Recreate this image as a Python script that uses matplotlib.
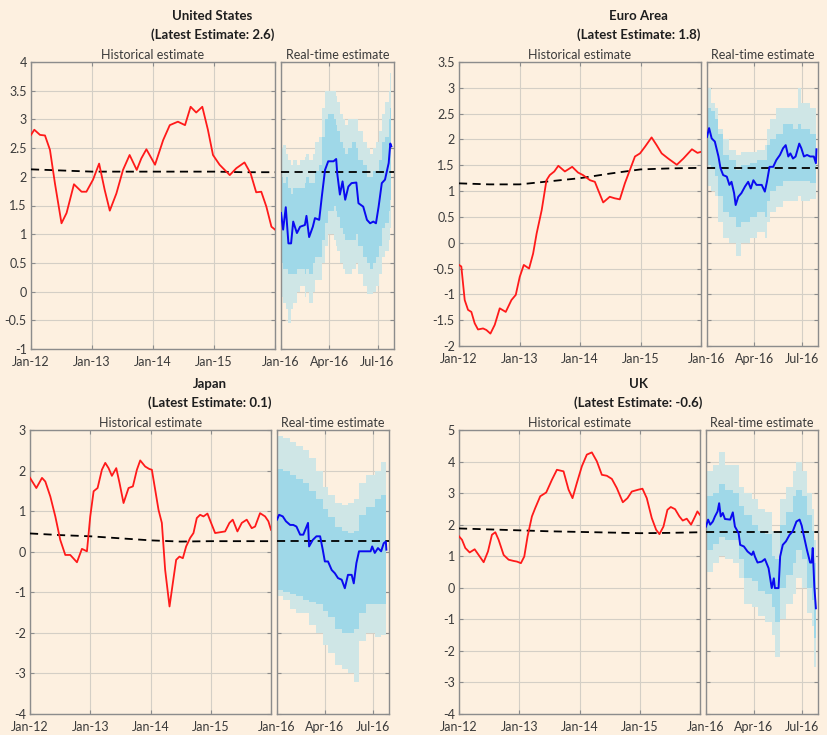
import matplotlib
matplotlib.use('Agg')
import matplotlib.pyplot as plt
from matplotlib.ticker import FormatStrFormatter

plt.rcParams['font.family'] = ['Lato', 'DejaVu Sans']
plt.rcParams['axes.unicode_minus'] = False

BG = '#fdf0e0'
RED = '#ff1a1a'
BLUE = '#0a0af0'
LIGHT = '#cfe6e6'
DARK = '#9fd8e8'
SPINE = '#8c8c8c'
TXT = '#3a3a3a'

# ---------------- data ----------------
hist_ticks = [0, 12, 24, 36, 48]
hist_labels = ['Jan-12', 'Jan-13', 'Jan-14', 'Jan-15', '']
rt_ticks = [0, 91, 182]
rt_labels = ['Jan-16', 'Apr-16', 'Jul-16']
trend_m = [0, 6, 12, 18, 24, 30, 36, 42, 48]

# United States
us_m = [0, 0.65, 1.77, 2.75, 3.73, 4.7, 6.0, 7.0, 8.45, 9.95, 10.9, 12.2, 13.4, 14.5,
        15.5, 16.8, 18.1, 19.4, 20.8, 21.7, 22.7, 24.4, 26.0, 27.3, 28.9, 30.3, 31.4,
        32.5, 33.7, 34.8, 35.8, 37.1, 39.1, 40.4, 42.0, 43.2, 44.3, 45.3, 46.3, 47.3, 48]
us_v = [2.73, 2.82, 2.73, 2.72, 2.47, 1.89, 1.19, 1.37, 1.87, 1.74, 1.74, 1.95, 2.23, 1.77,
        1.41, 1.71, 2.12, 2.38, 2.12, 2.32, 2.48, 2.21, 2.64, 2.90, 2.96, 2.90, 3.22,
        3.12, 3.22, 2.82, 2.38, 2.21, 2.03, 2.15, 2.25, 2.06, 1.73, 1.74, 1.48, 1.13, 1.08]
us_trend = [2.13, 2.11, 2.09, 2.09, 2.09, 2.09, 2.09, 2.08, 2.08]
us_rt_trend = 2.08
us_rt_d = [0, 4, 9, 14, 19, 23, 30, 36, 45, 48, 53, 60, 64, 72, 77, 83, 89, 99, 104, 106,
           111, 116, 121, 127, 133, 142, 146, 155, 162, 168, 174, 179, 184, 190, 196, 203,
           206, 208]
us_rt_v = [1.37, 1.08, 1.47, 0.84, 0.84, 1.22, 1.02, 1.13, 1.16, 1.32, 0.95, 1.13, 1.28,
           1.25, 1.66, 2.12, 2.27, 2.27, 2.31, 2.06, 1.69, 1.92, 1.60, 1.83, 1.89, 1.90,
           1.54, 1.48, 1.25, 1.19, 1.22, 1.19, 1.48, 1.89, 1.95, 2.24, 2.58, 2.53]
us_lo68 = [0.5, 0.4, 0.4, 0.3, 0.3, 0.3, 0.4, 0.4, 0.3, 0.4, 0.3, 0.5, 0.6, 0.6, 0.9, 1.2,
           1.4, 1.5, 1.4, 1.3, 1.1, 1.0, 0.9, 0.9, 0.9, 1.0, 0.8, 0.6, 0.5, 0.4, 0.5, 0.6,
           0.8, 1.1, 1.2, 1.4, 1.6, 1.6]
us_hi68 = [2.0, 1.9, 2.0, 1.8, 1.7, 1.8, 1.8, 1.8, 1.9, 2.0, 1.9, 1.9, 2.1, 2.2, 2.7, 3.0,
           3.1, 3.0, 2.9, 2.8, 2.6, 2.5, 2.4, 2.5, 2.6, 2.5, 2.3, 2.2, 2.0, 2.0, 2.1, 2.1,
           2.3, 2.6, 2.7, 3.0, 3.2, 3.3]
us_lo90 = [-0.1, -0.2, -0.3, -0.55, -0.3, -0.2, 0.0, 0.1, -0.1, 0.0, -0.2, 0.0, 0.2, 0.2,
           0.5, 0.8, 1.0, 0.9, 0.8, 0.7, 0.5, 0.4, 0.3, 0.3, 0.4, 0.5, 0.3, 0.1, -0.05,
           -0.05, 0.0, 0.1, 0.3, 0.6, 0.7, 0.9, 1.1, 1.1]
us_hi90 = [2.5, 2.55, 2.4, 2.3, 2.2, 2.3, 2.2, 2.3, 2.35, 2.4, 2.3, 2.4, 2.6, 2.7, 3.2, 3.5,
           3.5, 3.5, 3.4, 3.3, 3.1, 3.0, 2.9, 3.0, 3.0, 3.0, 2.8, 2.6, 2.5, 2.4, 2.5, 2.6,
           2.8, 3.1, 3.3, 3.5, 3.8, 3.9]

# Euro Area
ea_m = [0, 0.46, 1.13, 1.79, 2.45, 3.11, 3.77, 4.77, 5.43, 6.23, 7.09, 8.08, 9.27, 10.4,
        11.26, 12.05, 12.85, 13.9, 14.7, 15.4, 16.4, 17.35, 18.0, 18.9, 19.7, 21.0, 22.45,
        23.6, 24.6, 26.0, 26.95, 27.6, 28.6, 29.9, 30.9, 31.9, 32.9, 33.9, 34.9, 35.9,
        36.9, 38.2, 39.2, 40.2, 41.5, 43.2, 44.5, 46.2, 47.3, 48]
ea_v = [-0.43, -0.46, -1.11, -1.30, -1.34, -1.56, -1.68, -1.66, -1.69, -1.76, -1.59,
        -1.27, -1.34, -1.11, -1.01, -0.66, -0.43, -0.50, -0.21, 0.18, 0.63, 1.21, 1.31,
        1.38, 1.49, 1.38, 1.47, 1.36, 1.31, 1.21, 1.18, 1.02, 0.78, 0.89, 0.86, 0.84,
        1.15, 1.41, 1.67, 1.73, 1.86, 2.04, 1.89, 1.73, 1.63, 1.51, 1.63, 1.81, 1.74, 1.76]
ea_trend = [1.15, 1.13, 1.13, 1.19, 1.25, 1.34, 1.42, 1.44, 1.45]
ea_rt_trend = 1.45
ea_rt_d = [0, 4, 9, 15, 22, 26, 31, 38, 43, 47, 52, 55, 60, 66, 73, 79, 84, 89, 95, 105,
           111, 115, 120, 127, 133, 140, 146, 151, 156, 160, 165, 170, 177, 181, 186, 192,
           198, 205, 209, 210]
ea_rt_v = [2.05, 2.22, 2.02, 1.96, 1.67, 1.44, 1.31, 1.28, 1.12, 1.18, 0.96, 0.73, 0.89,
           0.96, 1.09, 1.18, 1.05, 1.21, 1.12, 1.12, 0.99, 1.18, 1.47, 1.47, 1.60, 1.70,
           1.83, 1.89, 1.67, 1.73, 1.63, 1.67, 1.92, 1.83, 1.67, 1.70, 1.67, 1.67, 1.54,
           1.81]
ea_band_d = [0, 8, 15, 22, 31, 43, 55, 66, 83, 95, 111, 115, 120, 133, 146, 165, 175, 181,
             198, 210]
ea_lo90 = [1.1, 1.0, 0.9, 0.4, 0.1, 0.0, -0.25, 0.0, 0.1, 0.2, 0.1, 0.4, 0.6, 0.7, 0.8,
           0.8, 0.9, 0.8, 0.85, 0.85]
ea_lo68 = [1.5, 1.45, 1.3, 0.9, 0.6, 0.5, 0.3, 0.4, 0.5, 0.6, 0.5, 0.8, 1.0, 1.1, 1.2,
           1.2, 1.2, 1.2, 1.15, 1.15]
ea_hi68 = [2.6, 2.55, 2.4, 2.1, 1.7, 1.6, 1.4, 1.5, 1.55, 1.6, 1.6, 1.9, 2.0, 2.1, 2.3,
           2.2, 2.3, 2.2, 2.1, 2.05]
ea_hi90 = [3.0, 2.7, 2.6, 2.2, 2.0, 1.8, 1.7, 1.75, 1.76, 1.8, 1.9, 2.2, 2.4, 2.6, 2.6,
           2.6, 3.0, 2.7, 2.6, 2.55]

# Japan
jp_m = [0, 1.26, 2.39, 3.05, 4.05, 5.04, 6.03, 7.03, 8.02, 9.35, 10.34, 11.34, 12.0,
        12.67, 13.46, 14.32, 14.99, 15.65, 16.31, 17.18, 17.84, 18.63, 19.63, 20.49,
        21.29, 21.95, 22.94, 23.74, 24.27, 24.93, 25.6, 26.26, 26.92, 27.79, 28.45, 29.11,
        29.77, 30.44, 31.1, 31.9, 32.56, 33.22, 33.89, 34.55, 35.34, 36.07, 36.87, 37.86,
        38.86, 39.72, 40.38, 41.31, 42.18, 43.17, 44.16, 44.83, 45.82, 46.82, 47.48, 48]
jp_v = [1.82, 1.57, 1.82, 1.73, 1.36, 0.87, 0.29, -0.08, -0.08, -0.26, 0.07, 0.01, 0.87,
        1.49, 1.57, 2.02, 2.19, 2.06, 1.87, 2.06, 1.69, 1.20, 1.57, 1.61, 2.02, 2.25, 2.10,
        2.04, 2.02, 1.53, 1.03, 0.71, -0.45, -1.35, -0.77, -0.20, -0.12, -0.16, 0.13, 0.34,
        0.46, 0.83, 0.91, 0.87, 0.94, 0.71, 0.46, 0.48, 0.50, 0.71, 0.79, 0.50, 0.71, 0.79,
        0.58, 0.62, 0.95, 0.87, 0.75, 0.54]
jp_trend = [0.45, 0.41, 0.38, 0.33, 0.28, 0.25, 0.26, 0.26, 0.26]
jp_rt_trend = 0.26
jp_rt_d = [0, 4, 11, 17, 25, 31, 37, 44, 50, 55, 59, 61, 68, 75, 82, 87, 91, 97, 104, 110,
           116, 123, 129, 135, 142, 146, 151, 156, 164, 170, 178, 181, 186, 192, 198, 203,
           207, 208]
jp_rt_v = [0.79, 0.91, 0.87, 0.75, 0.66, 0.66, 0.62, 0.42, 0.42, 0.58, 0.71, 0.13, 0.29,
           0.38, 0.38, 0.05, -0.24, -0.24, -0.45, -0.53, -0.65, -0.69, -0.90, -0.57, -0.57,
           -0.78, -0.28, 0.01, 0.01, 0.01, 0.01, 0.13, -0.03, 0.09, 0.01, 0.21, 0.25, 0.05]
jp_band_d = [0, 11, 25, 37, 50, 61, 75, 87, 97, 110, 123, 135, 146, 156, 170, 186, 198,
             208]
jp_lo90 = [-1.1, -1.2, -1.4, -1.5, -1.5, -1.8, -2.0, -2.3, -2.5, -2.8, -2.9, -3.0, -3.2,
           -2.2, -2.0, -2.1, -2.05, -1.9]
jp_lo68 = [-0.95, -1.0, -1.05, -1.1, -1.2, -1.25, -1.3, -1.45, -1.6, -1.9, -2.0, -2.0,
           -1.9, -1.5, -1.3, -1.3, -1.3, -1.0]
jp_hi68 = [2.05, 2.0, 1.9, 1.8, 1.7, 1.5, 1.3, 1.05, 0.85, 0.6, 0.5, 0.45, 0.5, 0.9, 1.1,
           1.3, 1.4, 1.4]
jp_hi90 = [2.85, 2.8, 2.7, 2.6, 2.5, 2.3, 2.0, 1.6, 1.4, 1.2, 1.15, 1.2, 1.3, 1.7, 1.9,
           2.0, 2.2, 2.2]

# UK
uk_m = [0, 0.6, 1.26, 2.12, 3.12, 3.91, 4.91, 5.77, 6.56, 7.23, 7.89, 8.89, 9.88, 10.88,
        11.54, 12.33, 13.0, 13.66, 14.52, 15.19, 16.18, 17.37, 18.5, 19.5, 20.82, 21.82,
        22.61, 23.47, 24.47, 25.46, 26.46, 27.45, 28.45, 29.44, 30.44, 31.43, 32.63, 33.55,
        34.42, 35.74, 36.54, 37.4, 38.39, 39.26, 39.92, 40.72, 41.51, 42.18, 43.04, 43.9,
        44.56, 45.36, 46.22, 47.02, 47.48, 48]
uk_v = [1.63, 1.52, 1.26, 1.12, 1.22, 1.04, 0.81, 1.15, 1.68, 1.76, 1.52, 1.04, 0.89, 0.85,
        0.83, 0.78, 0.99, 1.63, 2.26, 2.53, 2.90, 3.02, 3.42, 3.74, 3.69, 3.11, 2.84, 3.32,
        3.85, 4.22, 4.29, 4.01, 3.58, 3.55, 3.45, 3.16, 2.71, 2.84, 3.05, 3.11, 3.14, 2.84,
        2.21, 1.84, 1.70, 1.94, 2.47, 2.56, 2.49, 2.26, 2.13, 2.19, 2.00, 2.26, 2.42, 2.31]
uk_trend = [1.88, 1.85, 1.82, 1.79, 1.77, 1.75, 1.73, 1.74, 1.76]
uk_rt_trend = 1.77
uk_rt_d = [0, 4, 8, 13, 17, 22, 25, 28, 32, 36, 46, 51, 55, 62, 65, 72, 79, 87, 90, 93,
           98, 106, 112, 119, 125, 129, 131, 138, 141, 146, 152, 159, 165, 172, 178, 182,
           185, 192, 198, 201, 203, 206, 209]
uk_rt_v = [1.94, 2.16, 2.00, 2.10, 2.26, 2.42, 2.68, 2.26, 2.37, 2.18, 2.16, 2.39, 1.94,
           1.73, 1.36, 1.31, 1.15, 1.04, 1.15, 0.99, 0.80, 0.83, 0.91, 0.62, -0.01, 0.30,
           -0.01, -0.01, 0.99, 1.36, 1.47, 1.68, 1.79, 2.10, 2.16, 1.97, 1.73, 1.20, 0.80,
           0.80, 1.26, 0.04, -0.65]
uk_band_d = [0, 13, 25, 36, 51, 62, 72, 87, 98, 112, 125, 131, 141, 152, 165, 172, 182,
             192, 201, 206, 209]
uk_lo90 = [0.5, 0.8, 1.0, 0.9, 0.8, 0.3, -0.5, -0.6, -0.9, -1.1, -1.5, -2.2, -1.0, -0.5,
           -0.2, 0.3, 0.0, -0.8, -1.2, -2.5, -3.0]
uk_lo68 = [1.2, 1.4, 1.6, 1.5, 1.5, 0.9, 0.3, 0.2, -0.1, -0.2, -0.6, -1.1, 0.0, 0.4, 0.8,
           1.2, 0.9, 0.0, -0.4, -1.6, -2.3]
uk_hi68 = [2.9, 3.0, 3.3, 3.1, 3.0, 2.6, 2.3, 2.0, 1.8, 1.7, 1.0, 0.9, 2.0, 2.4, 2.9, 3.1,
           2.9, 2.3, 1.8, 0.8, 0.0]
uk_hi90 = [3.7, 3.9, 4.3, 3.9, 3.9, 3.2, 3.0, 2.8, 2.5, 2.4, 1.8, 1.8, 2.8, 3.2, 3.7, 4.0,
           3.7, 3.0, 2.5, 1.5, 1.0]

titles = ['United States', 'Euro Area', 'Japan', 'UK']
latest = ['2.6', '1.8', '0.1', '-0.6']

panels = [
    dict(hm=us_m, hv=us_v, tr=us_trend, rtt=us_rt_trend, rd=us_rt_d, rv=us_rt_v,
         bd=us_rt_d, lo90=us_lo90, lo68=us_lo68, hi68=us_hi68, hi90=us_hi90,
         ylim=(-1, 4), step=0.5, fmt='%g',
         hist=[31, 62, 244, 287], rt=[281, 62, 113, 287], ty=(16, 35)),
    dict(hm=ea_m, hv=ea_v, tr=ea_trend, rtt=ea_rt_trend, rd=ea_rt_d, rv=ea_rt_v,
         bd=ea_band_d, lo90=ea_lo90, lo68=ea_lo68, hi68=ea_hi68, hi90=ea_hi90,
         ylim=(-2, 3.5), step=0.5, fmt='%g',
         hist=[459, 62, 242, 284], rt=[707, 62, 111, 284], ty=(16, 35)),
    dict(hm=jp_m, hv=jp_v, tr=jp_trend, rtt=jp_rt_trend, rd=jp_rt_d, rv=jp_rt_v,
         bd=jp_band_d, lo90=jp_lo90, lo68=jp_lo68, hi68=jp_hi68, hi90=jp_hi90,
         ylim=(-4, 3), step=1, fmt='%g',
         hist=[30, 430, 241, 284], rt=[277, 430, 112, 284], ty=(384, 403)),
    dict(hm=uk_m, hv=uk_v, tr=uk_trend, rtt=uk_rt_trend, rd=uk_rt_d, rv=uk_rt_v,
         bd=uk_band_d, lo90=uk_lo90, lo68=uk_lo68, hi68=uk_hi68, hi90=uk_hi90,
         ylim=(-4, 5), step=1, fmt='%g',
         hist=[459, 430, 241, 284], rt=[706, 430, 112, 284], ty=(384, 403)),
]

W, H = 827, 735
fig = plt.figure(figsize=(W / 100, H / 100), dpi=100)
fig.patch.set_facecolor(BG)


def rect(px):
    x, y, w, h = px
    return [x / W, 1 - (y + h) / H, w / W, h / H]


def style(ax, p):
    ax.set_facecolor(BG)
    for s in ax.spines.values():
        s.set_color(SPINE)
        s.set_linewidth(1.0)
    ax.tick_params(direction='in', length=3, width=0.8, colors=SPINE,
                   labelcolor=TXT, labelsize=9, top=True, right=True, pad=3)
    ax.tick_params(axis='x', pad=5)
    ax.grid(True, color='#d4cfc6', linewidth=0.8)
    ax.set_axisbelow(True)
    lo, hi = p['ylim']
    n = int(round((hi - lo) / p['step']))
    ax.set_yticks([lo + i * p['step'] for i in range(n + 1)])
    ax.set_ylim(lo, hi)


for i, p in enumerate(panels):
    axh = fig.add_axes(rect(p['hist']))
    axr = fig.add_axes(rect(p['rt']))
    style(axh, p)
    style(axr, p)

    axh.plot(trend_m, p['tr'], color='black', lw=1.3, ls=(0, (4.5, 3)), zorder=3)
    axh.plot(p['hm'], p['hv'], color=RED, lw=1.3, zorder=4)
    axh.set_xlim(0, 48)
    axh.set_xticks(hist_ticks)
    axh.set_xticklabels(hist_labels)
    axh.yaxis.set_major_formatter(FormatStrFormatter(p['fmt']))
    axh.set_title('Historical estimate', fontsize=9, color=TXT, pad=2)

    axr.fill_between(p['bd'], p['lo90'], p['hi90'], step='post', color=LIGHT, lw=0, zorder=1)
    axr.fill_between(p['bd'], p['lo68'], p['hi68'], step='post', color=DARK, lw=0, zorder=2)
    axr.axhline(p['rtt'], color='black', lw=1.3, ls=(0, (4.5, 3)), zorder=3)
    axr.plot(p['rd'], p['rv'], color=BLUE, lw=1.4, zorder=4)
    axr.set_xlim(0, 213)
    axr.set_xticks(rt_ticks)
    axr.set_xticklabels(rt_labels)
    axr.set_yticklabels([])
    axr.set_title('Real-time estimate', fontsize=9, color=TXT, pad=2)

    hx, hy, hw, hh = p['hist']
    rx, ry, rw, rh = p['rt']
    cx = (hx + rx + rw) / 2 / W
    fig.text(cx, 1 - p['ty'][0] / H, titles[i], ha='center', va='center',
             fontsize=9.5, fontweight='bold', color='#1e1e1e')
    fig.text(cx, 1 - p['ty'][1] / H, '(Latest Estimate: %s)' % latest[i], ha='center',
             va='center', fontsize=9.5, fontweight='bold', color='#1e1e1e')

fig.savefig('out.png', dpi=100, facecolor=BG)
